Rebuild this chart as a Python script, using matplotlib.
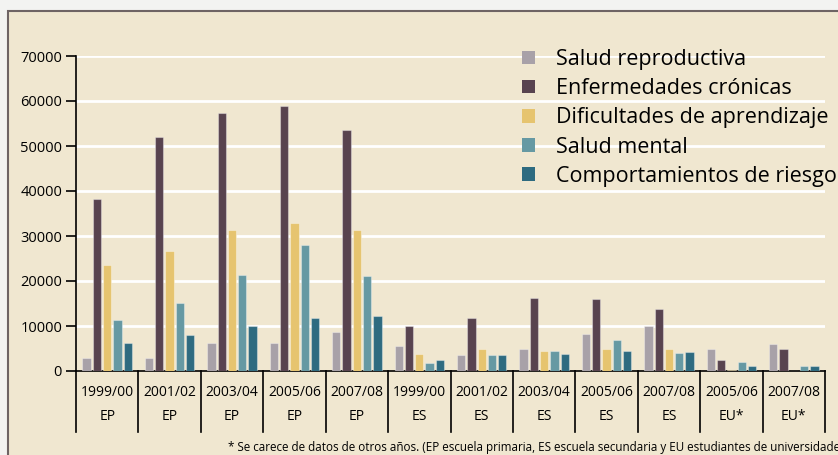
import matplotlib
matplotlib.use("Agg")
import matplotlib.pyplot as plt
from matplotlib.patches import Rectangle, Patch
import numpy as np

years = ["1999/00", "2001/02", "2003/04", "2005/06", "2007/08",
         "1999/00", "2001/02", "2003/04", "2005/06", "2007/08",
         "2005/06", "2007/08"]
levels = ["EP", "EP", "EP", "EP", "EP", "ES", "ES", "ES", "ES", "ES", "EU*", "EU*"]

series_names = ["Salud reproductiva", "Enfermedades crónicas",
                "Dificultades de aprendizaje", "Salud mental",
                "Comportamientos de riesgo"]
salud_reproductiva = [3000, 3000, 6300, 6300, 8600, 5500, 3500, 5000, 8300, 10000, 5000, 6000]
enfermedades_cronicas = [38200, 52000, 57300, 59000, 53500, 10000, 11800, 16300, 16100, 13800, 2400, 5000]
dificultades_aprendizaje = [23500, 26600, 31300, 33000, 31300, 3800, 5000, 4500, 5000, 5000, 300, 0]
salud_mental = [11300, 15100, 21300, 28000, 21200, 1800, 3500, 4500, 6900, 4000, 2000, 1200]
comportamientos_riesgo = [6200, 8100, 10000, 11700, 12200, 2400, 3600, 3800, 4400, 4300, 1200, 1200]
series = [salud_reproductiva, enfermedades_cronicas, dificultades_aprendizaje,
          salud_mental, comportamientos_riesgo]
colors = ["#a8a1a8", "#58434f", "#e6c46f", "#6699a3", "#2e6b80"]

footnote = ("* Se carece de datos de otros años. (EP escuela primaria, ES escuela "
            "secundaria y EU estudiantes de universidades)")

plt.rcParams["font.family"] = ["Open Sans", "DejaVu Sans"]

W, H = 838, 455
fig = plt.figure(figsize=(W / 100, H / 100), dpi=100)
fig.patch.set_facecolor("#f3f3f1")

# beige panel
panel = Rectangle((8 / W, -0.05), 1.2, (H - 11) / H + 0.05, transform=fig.transFigure,
                  facecolor="#f0e7d0", edgecolor="#6e6464", linewidth=1.5, zorder=-10)
fig.patches.append(panel)

ax = fig.add_axes([76 / W, 84 / H, (825 - 76) / W, (371 - 56) / H])
ax.set_zorder(1)
ax.set_facecolor("none")
n = len(years)
ax.set_xlim(0, n)
ax.set_ylim(0, 70000)

bw = 0.133
step = 0.165
for i, (vals, c) in enumerate(zip(series, colors)):
    x = np.arange(n) + 0.5 + (i - 2) * step
    ax.bar(x, vals, width=bw, color=c, edgecolor=(1, 1, 1, 0.35), linewidth=0.8, zorder=3)

yt = np.arange(0, 70001, 10000)
for y in yt[1:]:
    ax.axhline(y, color="white", linewidth=2, zorder=1)
ax.set_yticks(yt)
ax.set_yticklabels([str(v) for v in yt], fontsize=10.5)
ax.tick_params(axis="y", length=7, width=1.2, pad=3, colors="black")
ax.set_xticks([])
for s in ["top", "right"]:
    ax.spines[s].set_visible(False)
ax.spines["left"].set_linewidth(1.2)
ax.spines["bottom"].set_linewidth(1.2)

# separators and category labels
sep_len = 61 / (371 - 56)
for k in range(n + 1):
    ax.plot([k, k], [0, -sep_len], transform=ax.get_xaxis_transform(),
            color="black", linewidth=1.2, clip_on=False)
for k in range(n):
    ax.text(k + 0.5, -21 / (371 - 56), years[k], transform=ax.get_xaxis_transform(),
            ha="center", va="center", fontsize=10)
    ax.text(k + 0.5, -46 / (371 - 56), levels[k], transform=ax.get_xaxis_transform(),
            ha="center", va="center", fontsize=10)

# legend
handles = [Patch(facecolor=c, edgecolor="none") for c in colors]
leg = ax.legend(handles, series_names, loc="upper left",
                bbox_to_anchor=(522 / W, 1 - 49 / H), bbox_transform=fig.transFigure,
                frameon=False, fontsize=15.5, handlelength=0.6, handleheight=0.6,
                handletextpad=1.0, labelspacing=0.38, borderpad=0, borderaxespad=0)

fig.text(228 / W, 1 - 447 / H, footnote, fontsize=8.4, ha="left", va="center")

fig.savefig("out.png", dpi=100, facecolor=fig.get_facecolor())
